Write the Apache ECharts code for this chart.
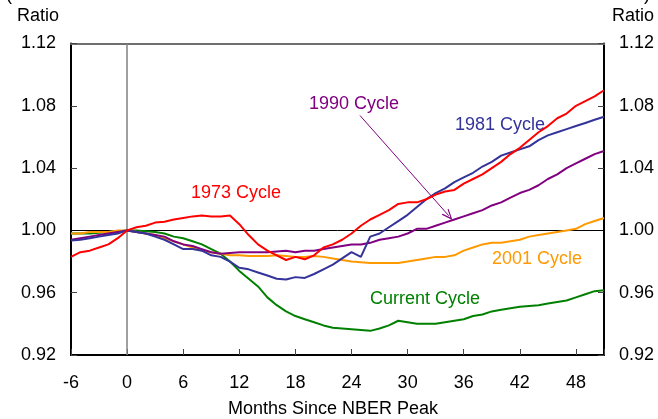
<!DOCTYPE html>
<html>
<head>
<meta charset="utf-8">
<script src="https://cdn.jsdelivr.net/npm/echarts@6/dist/echarts.min.js"></script>
<style>
html,body{margin:0;padding:0;background:#fff;}
#box{width:658px;height:419px;}
</style>
</head>
<body>
<div id="box"></div>
<script type="text/javascript">
var months = [-6,-5,-4,-3,-2,-1,0,1,2,3,4,5,6,7,8,9,10,11,12,13,14,15,16,17,18,19,20,21,22,23,24,25,26,27,28,29,30,
              31,32,33,34,35,36,37,38,39,40,41,42,43,44,45,46,47,48,49,50,51];

var cycle1973 = [0.983,0.986,0.987,0.989,0.991,0.995,1.000,
    1.002,1.003,1.005,1.0055,1.007,1.008,1.009,1.0095,1.009,1.009,
    1.0095,1.004,0.997,0.991,0.987,0.984,0.981,0.983,0.9815,0.984,
    0.989,0.991,0.994,0.998,1.003,1.007,1.010,1.013,1.017,1.018,
    1.018,1.020,1.023,1.025,1.026,1.030,1.033,1.036,1.040,1.044,
    1.049,1.053,1.058,1.063,1.067,1.072,1.075,1.080,1.083,1.086,1.090];

var cycle1981 = [0.9935,0.994,0.995,0.996,0.997,0.998,1.000,
    0.999,0.998,0.996,0.994,0.991,0.988,0.988,0.987,0.984,0.983,
    0.980,0.976,0.975,0.973,0.971,0.969,0.9685,0.970,0.9695,0.972,
    0.975,0.978,0.982,0.986,0.983,0.996,0.998,1.002,1.006,1.010,
    1.015,1.020,1.024,1.027,1.031,1.034,1.037,1.041,1.044,1.048,
    1.050,1.052,1.054,1.058,1.061,1.063,1.065,1.067,1.069,1.071,1.073];

var cycle1990 = [0.994,0.995,0.996,0.997,0.998,0.999,1.000,
    0.999,0.998,0.997,0.996,0.993,0.991,0.990,0.988,0.986,0.985,
    0.9855,0.986,0.986,0.986,0.986,0.9865,0.987,0.986,0.987,0.987,
    0.988,0.989,0.990,0.991,0.991,0.992,0.994,0.995,0.996,0.998,
    1.001,1.001,1.003,1.005,1.007,1.009,1.011,1.013,1.016,1.018,
    1.021,1.024,1.026,1.029,1.033,1.036,1.040,1.043,1.046,1.049,1.051];

var cycle2001 = [0.998,0.998,0.999,0.999,0.999,1.000,1.000,
    0.999,0.998,0.997,0.995,0.993,0.991,0.989,0.987,0.986,0.985,
    0.984,0.984,0.9835,0.9835,0.9835,0.984,0.9835,0.983,0.983,0.9835,
    0.983,0.982,0.981,0.980,0.9795,0.979,0.979,0.979,0.979,0.980,
    0.981,0.982,0.983,0.983,0.984,0.987,0.989,0.991,0.992,0.992,
    0.993,0.994,0.996,0.997,0.998,0.999,1.000,1.001,1.004,1.006,1.008];

var cycleCurrent = [0.998,0.998,0.998,0.9985,0.999,0.9995,1.000,
    1.000,0.9995,0.999,0.998,0.996,0.995,0.993,0.991,0.988,0.985,
    0.980,0.974,0.969,0.964,0.957,0.952,0.948,0.945,0.943,0.941,
    0.939,0.9375,0.937,0.9365,0.936,0.9355,0.937,0.939,0.942,0.941,
    0.940,0.940,0.940,0.941,0.942,0.943,0.945,0.946,0.948,0.949,
    0.950,0.951,0.9515,0.952,0.953,0.954,0.955,0.957,0.959,0.961,0.9615];

var seriesNames = ['1973 Cycle','1981 Cycle','1990 Cycle','2001 Cycle','Current Cycle'];
var seriesColors = ['#ff0000','#333399','#800080','#ff9900','#008000'];
var seriesValues = [cycle1973, cycle1981, cycle1990, cycle2001, cycleCurrent];

var FONT = '"Liberation Sans", Arial, sans-serif';

function pairs(vals){
    var out = [];
    for (var i = 0; i < months.length; i++) out.push([months[i], vals[i]]);
    return out;
}

var chart = echarts.init(document.getElementById('box'));

var yAxisBase = function(pos){
    return {
        type: 'value', position: pos, min: 0.92, max: 1.12, interval: 0.04,
        axisLine: {show: true, onZero: false, lineStyle: {color: '#000', width: 2}},
        axisTick: {show: true, inside: true, length: 6, lineStyle: {color: '#444', width: 1}},
        axisLabel: {color: '#000', fontSize: 18, fontFamily: FONT, margin: 15,
            formatter: function(v){ return v.toFixed(2); }},
        splitLine: {show: false}
    };
};

var series = [];
for (var s = 0; s < seriesNames.length; s++) {
    series.push({
        name: seriesNames[s], type: 'line', data: pairs(seriesValues[s]),
        showSymbol: false, symbol: 'none', smooth: false,
        lineStyle: {color: seriesColors[s], width: 2},
        z: 10 - s
    });
}
// reference lines at 1.00 and month 0, plus the 1990 arrow
series[0].markLine = {
    silent: true, symbol: 'none', animation: false,
    label: {show: false},
    data: [
        {yAxis: 1.00, lineStyle: {color: '#000', width: 1, type: 'solid'}},
        {xAxis: 0, lineStyle: {color: '#808080', width: 1.5, type: 'solid'}}
    ]
};
series[2].markLine = {
    silent: true, animation: false,
    symbol: ['none', 'path://M0,10 L5,0 L10,10 L8.6,10 L5,2.8 L1.4,10 Z'],
    symbolSize: [9, 11],
    label: {show: false},
    data: [[
        {coord: [24.9, 1.0738]},
        {coord: [34.4, 1.0094]}
    ]],
    lineStyle: {color: '#800080', width: 1, type: 'solid'}
};

var option = {
    animation: false,
    backgroundColor: '#fff',
    grid: {left: 71, right: 54, top: 43.5, bottom: 64},
    xAxis: [{
        type: 'value', min: -6, max: 51, interval: 6,
        axisLine: {show: true, onZero: false, lineStyle: {color: '#000', width: 2}},
        axisTick: {show: true, inside: true, length: 6, lineStyle: {color: '#444', width: 1}},
        axisLabel: {color: '#000', fontSize: 18, fontFamily: FONT, margin: 19,
            formatter: function(v){ return v > 48 ? '' : String(v); }},
        splitLine: {show: false}
    }, {
        type: 'value', position: 'top', min: -6, max: 51,
        axisLine: {show: true, onZero: false, lineStyle: {color: '#6e6e6e', width: 2}},
        axisTick: {show: false}, axisLabel: {show: false}, splitLine: {show: false}
    }],
    yAxis: [yAxisBase('left'), yAxisBase('right')],
    graphic: [
        {type: 'text', left: 17, top: 7, style: {text: 'Ratio', fill: '#000', font: '18px ' + FONT}},
        {type: 'text', left: 612, top: 7, style: {text: 'Ratio', fill: '#000', font: '18px ' + FONT}},
        {type: 'text', left: 6, top: -14, style: {text: '(', fill: '#000', font: '18px ' + FONT}},
        {type: 'text', left: 644, top: -14, style: {text: ')', fill: '#000', font: '18px ' + FONT}},
        {type: 'text', left: 228, top: 400, style: {text: 'Months Since NBER Peak', fill: '#000', font: '18px ' + FONT}},
        {type: 'text', left: 191, top: 184, style: {text: '1973 Cycle', fill: '#ff0000', font: '18px ' + FONT}},
        {type: 'text', left: 309, top: 95, style: {text: '1990 Cycle', fill: '#800080', font: '18px ' + FONT}},
        {type: 'text', left: 455, top: 116, style: {text: '1981 Cycle', fill: '#333399', font: '18px ' + FONT}},
        {type: 'text', left: 492, top: 250, style: {text: '2001 Cycle', fill: '#ff9900', font: '18px ' + FONT}},
        {type: 'text', left: 370, top: 290, style: {text: 'Current Cycle', fill: '#008000', font: '18px ' + FONT}}
    ],
    series: series
};

chart.setOption(option);
</script>
</body>
</html>
